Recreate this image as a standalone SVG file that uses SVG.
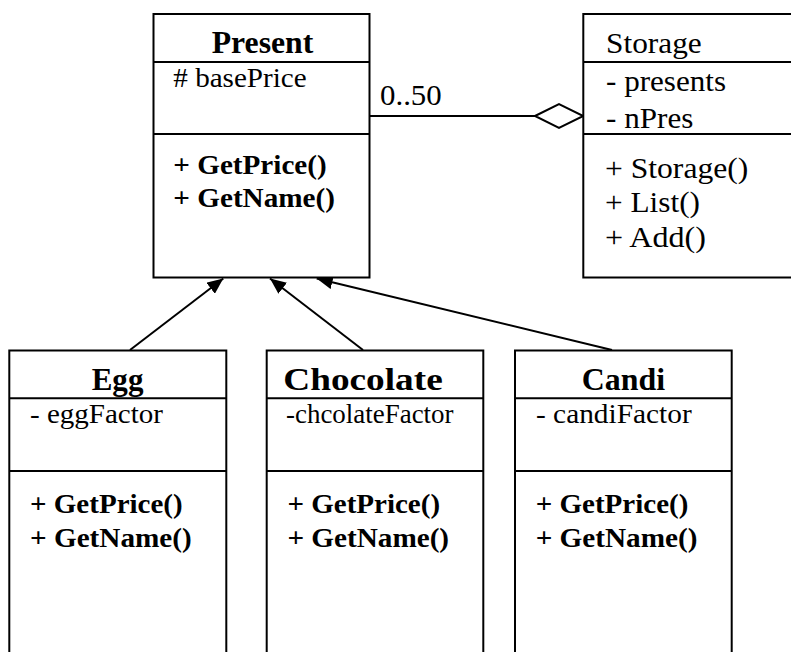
<svg xmlns="http://www.w3.org/2000/svg" width="791" height="652" viewBox="0 0 791 652">
<style>
.box{fill:#fff;stroke:#000;stroke-width:2}
.sep{stroke:#000;stroke-width:2}
.t{font-family:"Liberation Serif","Times New Roman",serif;fill:#000}
.title{font-size:32px;font-weight:bold}
.reg{font-size:30px}
.attr{font-size:28px}
.attrs{font-size:27px}
.meth{font-size:28px;font-weight:bold}
.conn{stroke:#000;stroke-width:2;fill:none}
</style>
<defs>
<marker id="tri" viewBox="0 -7 16 14" refX="16" refY="0" markerWidth="16" markerHeight="14" markerUnits="userSpaceOnUse" orient="auto">
<path d="M0,-7 L16,0 L0,7 z" fill="#000"/>
</marker>
</defs>
<rect width="791" height="652" fill="#fff"/>

<g id="connectors">
<line class="conn" x1="369.5" y1="116" x2="535" y2="116"/>
<polygon class="conn" points="535,116 559,104 583.3,116 559,128" fill="#fff"/>
<text class="t reg" x="380" y="105" textLength="61.7" lengthAdjust="spacingAndGlyphs">0..50</text>
<line class="conn" x1="130" y1="350" x2="223.3" y2="278.5" marker-end="url(#tri)"/>
<line class="conn" x1="363" y1="350" x2="270" y2="278.5" marker-end="url(#tri)"/>
<line class="conn" x1="612" y1="350" x2="316.7" y2="278.5" marker-end="url(#tri)"/>
</g>

<g id="Present">
<rect class="box" x="153.5" y="14" width="216" height="263.5"/>
<line class="sep" x1="153.5" y1="62" x2="369.5" y2="62"/>
<line class="sep" x1="153.5" y1="134" x2="369.5" y2="134"/>
<text class="t title" x="211.7" y="53.3" textLength="101.6" lengthAdjust="spacingAndGlyphs">Present</text>
<text class="t attr" x="173.3" y="87" textLength="133.4" lengthAdjust="spacingAndGlyphs"># basePrice</text>
<text class="t meth" x="173.3" y="173.5" textLength="153.4" lengthAdjust="spacingAndGlyphs">+ GetPrice()</text>
<text class="t meth" x="173.3" y="206.7" textLength="161.7" lengthAdjust="spacingAndGlyphs">+ GetName()</text>
</g>

<g id="Storage">
<rect class="box" x="583.3" y="14" width="230" height="263.5"/>
<line class="sep" x1="583.3" y1="62" x2="800" y2="62"/>
<line class="sep" x1="583.3" y1="134" x2="800" y2="134"/>
<text class="t reg" x="606" y="53.3" textLength="95.7" lengthAdjust="spacingAndGlyphs">Storage</text>
<text class="t reg" x="606" y="91" textLength="120" lengthAdjust="spacingAndGlyphs">- presents</text>
<text class="t reg" x="606" y="128" textLength="87.3" lengthAdjust="spacingAndGlyphs">- nPres</text>
<text class="t reg" x="605" y="178.3" textLength="143.3" lengthAdjust="spacingAndGlyphs">+ Storage()</text>
<text class="t reg" x="605" y="211.7" textLength="95" lengthAdjust="spacingAndGlyphs">+ List()</text>
<text class="t reg" x="605" y="246.7" textLength="101" lengthAdjust="spacingAndGlyphs">+ Add()</text>
</g>

<g id="Egg">
<rect class="box" x="9.3" y="350.5" width="217" height="320"/>
<line class="sep" x1="9.3" y1="398.3" x2="226.3" y2="398.3"/>
<line class="sep" x1="9.3" y1="471" x2="226.3" y2="471"/>
<text class="t title" x="91.7" y="390" textLength="51.7" lengthAdjust="spacingAndGlyphs">Egg</text>
<text class="t attrs" x="30" y="423.3" textLength="133" lengthAdjust="spacingAndGlyphs">- eggFactor</text>
<text class="t meth" x="30" y="513" textLength="152.7" lengthAdjust="spacingAndGlyphs">+ GetPrice()</text>
<text class="t meth" x="30" y="546.7" textLength="161.7" lengthAdjust="spacingAndGlyphs">+ GetName()</text>
</g>

<g id="Chocolate">
<rect class="box" x="266.7" y="350.5" width="216.6" height="320"/>
<line class="sep" x1="266.7" y1="398.3" x2="483.3" y2="398.3"/>
<line class="sep" x1="266.7" y1="471" x2="483.3" y2="471"/>
<text class="t title" x="283.3" y="390" textLength="159.4" lengthAdjust="spacingAndGlyphs">Chocolate</text>
<text class="t attrs" x="286" y="423.3" textLength="167.5" lengthAdjust="spacingAndGlyphs">-chcolateFactor</text>
<text class="t meth" x="287.4" y="513" textLength="152.7" lengthAdjust="spacingAndGlyphs">+ GetPrice()</text>
<text class="t meth" x="287.4" y="546.7" textLength="161.7" lengthAdjust="spacingAndGlyphs">+ GetName()</text>
</g>

<g id="Candi">
<rect class="box" x="515" y="350.5" width="216.7" height="320"/>
<line class="sep" x1="515" y1="398.3" x2="731.7" y2="398.3"/>
<line class="sep" x1="515" y1="471" x2="731.7" y2="471"/>
<text class="t title" x="581.7" y="390" textLength="83.3" lengthAdjust="spacingAndGlyphs">Candi</text>
<text class="t attrs" x="536" y="423.3" textLength="155.7" lengthAdjust="spacingAndGlyphs">- candiFactor</text>
<text class="t meth" x="535.7" y="513" textLength="152.7" lengthAdjust="spacingAndGlyphs">+ GetPrice()</text>
<text class="t meth" x="535.7" y="546.7" textLength="161.7" lengthAdjust="spacingAndGlyphs">+ GetName()</text>
</g>
</svg>
